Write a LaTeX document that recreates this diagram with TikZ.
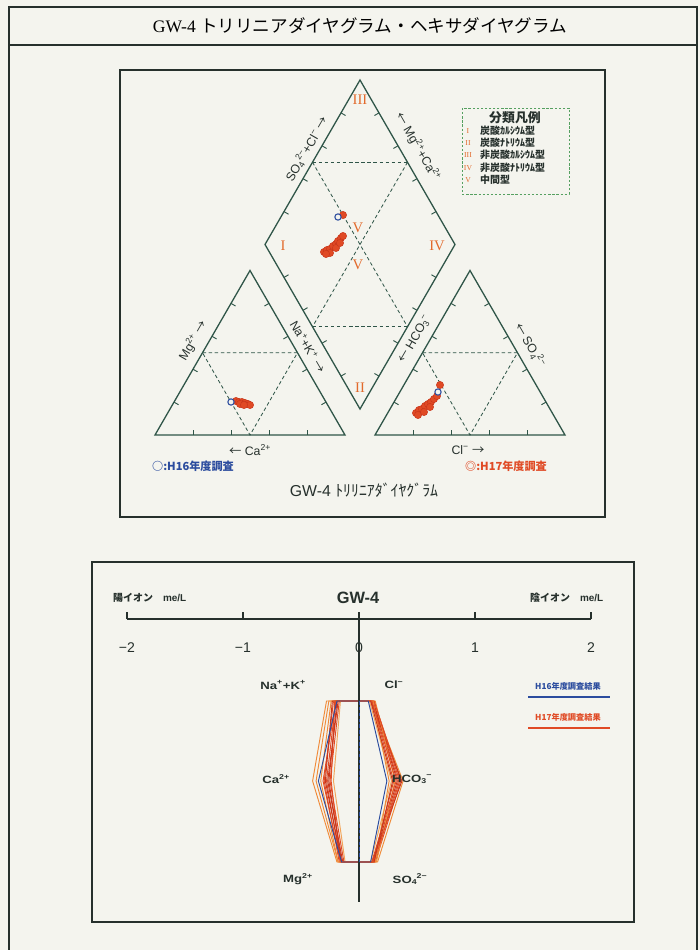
\documentclass[tikz,border=0pt]{standalone}
\usepackage{fontspec}
\setmainfont{Liberation Sans}
\newfontfamily\jp{Noto Sans CJK JP}
\newfontfamily\mincho{Liberation Serif}
\newfontfamily\wide[FakeStretch=1.25]{Liberation Sans}
\usetikzlibrary{positioning}
\usetikzlibrary{calc}

\definecolor{paper}{HTML}{F4F4EE}
\definecolor{ink}{HTML}{26302C}
\definecolor{piper}{HTML}{2F5548}
\definecolor{romanorg}{HTML}{E26A2C}
\definecolor{ptred}{HTML}{E04A25}
\definecolor{ptdark}{HTML}{C8361C}
\definecolor{ptorg}{HTML}{F08A38}
\definecolor{ptlight}{HTML}{F2A458}
\definecolor{ptblue}{HTML}{2B4C9E}
\definecolor{leggreen}{HTML}{55A060}

\newcommand{\chg}[2]{\textsubscript{#1}\kern-0.05em\textsuperscript{#2}}
\newcommand{\ra}{{\jp →}}
\newcommand{\la}{{\jp ←}}

\tikzset{pside/.style={draw=piper, line width=1.1pt, line join=miter}}
\tikzset{gridln/.style={draw=piper, line width=0.7pt, dash pattern=on 3pt off 2.2pt}}
\tikzset{tk/.style={draw=piper, line width=0.8pt}}
\tikzset{roman/.style={text=romanorg, font=\mincho\fontsize{12.5}{12}\selectfont, inner sep=0pt}}
\tikzset{slab/.style={text=ink, font=\fontsize{10.5}{11}\selectfont, inner sep=0pt}}
\tikzset{p16/.style={draw=ptblue, line width=0.9pt, fill=paper}}
\tikzset{p17/.style={draw=ptdark, fill=ptred, line width=0.4pt}}
\tikzset{hex/.style={line width=0.8pt, line join=miter}}
\tikzset{hexlab/.style={text=ink, font=\wide\bfseries\fontsize{9}{10}\selectfont, inner sep=0pt}}
\tikzset{leg/.style={anchor=west, inner sep=0pt, font=\jp\bfseries\fontsize{8.5}{9}\selectfont}}

\begin{document}
\begin{tikzpicture}[x=0.03cm, y=-0.03cm]
\fill[paper] (0,0) rectangle (700,950);
\useasboundingbox (0,0) rectangle (700,950);

% frame and title
\draw[ink, line width=1.3pt] (9,950) -- (9,7) -- (697,7) -- (697,950);
\draw[ink, line width=1.3pt] (9,45) -- (697,45);
\node (title) at (360,26) {\fontsize{15}{15}\selectfont\mincho GW-4\ \jp トリリニアダイヤグラム・ヘキサダイヤグラム};

% trilinear diagram
\draw[ink, line width=1pt] (120,70) rectangle (605,517);

\coordinate (LA) at (155,435);
\coordinate (LB) at (345,435);
\coordinate (LC) at (250,270.5);
\coordinate (RA) at (375,435);
\coordinate (RB) at (565,435);
\coordinate (RC) at (470,270.5);
\coordinate (DB) at (360,409);
\coordinate (DR) at (455,244.5);
\coordinate (DT) at (360,80);
\coordinate (DL) at (265,244.5);

\draw[pside] (LA) -- (LB) -- (LC) -- cycle;
\draw[pside] (RA) -- (RB) -- (RC) -- cycle;
\draw[pside] (DB) -- (DR) -- (DT) -- (DL) -- cycle;

\foreach \p/\q in {LA/LB, LB/LC, LC/LA, RA/RB, RB/RC, RC/RA, DB/DR, DR/DT, DT/DL, DL/DB}
  \foreach \t in {0.2,0.4,0.6,0.8} {
    \path ($(\p)!\t!(\q)$) coordinate (m);
    \draw[tk] (m) -- ($(m)!4.5pt!90:(\q)$);
  }

% dashed mid lines
\foreach \a/\b/\c/\n in {LA/LB/LC/L, RA/RB/RC/R} {
  \coordinate (\n1) at ($(\a)!0.5!(\c)$);
  \coordinate (\n2) at ($(\b)!0.5!(\c)$);
  \coordinate (\n3) at ($(\a)!0.5!(\b)$);
  \draw[gridln] (\n1) -- (\n2) -- (\n3) -- cycle;
}
\coordinate (U1) at ($(DL)!0.5!(DT)$);
\coordinate (U2) at ($(DT)!0.5!(DR)$);
\coordinate (U3) at ($(DR)!0.5!(DB)$);
\coordinate (U4) at ($(DB)!0.5!(DL)$);
\draw[gridln] (U1) -- (U2);
\draw[gridln] (U4) -- (U3);
\draw[gridln] (U1) -- (U3);
\draw[gridln] (U2) -- (U4);

\node (r3) [roman] at (360,100) {III};
\node (r1) [roman] at (283,246) {I};
\node (r4) [roman] at (437,246) {IV};
\node (r2) [roman] at (360,388) {II};
\node (r5a) [roman] at (358,228) {V};
\node (r5b) [roman] at (358,265) {V};

% samples
\foreach \x/\y in {324/252, 327/250, 330/249, 333/246, 336/244, 338/241, 341/238, 343/236, 330/253, 336/248, 340/243, 326/254,
                   236/401, 239/402, 242/402, 245/403, 248/404, 250/405, 240/404, 244/405,
                   416/413, 419/410, 422/409, 425/406, 428/404, 431/402, 434/399, 437/396, 418/415, 424/412, 430/407,
                   343/215, 440/385}
  \draw[p17] (\x,\y) circle (3.1pt);
\foreach \x/\y in {338/217, 231/402, 438/392}
  \draw[p16] (\x,\y) circle (2.7pt);

% axis labels
\node (soc) [slab, rotate=60] at (307,149) {SO\chg{4}{2−}+Cl\textsuperscript{−} \ra};
\node (mgca) [slab, rotate=-60] at (418,147) {\la\ Mg\textsuperscript{2+}+Ca\textsuperscript{2+}};
\node (mg) [slab, rotate=60] at (193,341) {Mg\textsuperscript{2+} \ra};
\node (nak) [slab, rotate=-60] at (308,347) {Na\textsuperscript{+}+K\textsuperscript{+} \ra};
\node (hco) [slab, rotate=60] at (415,339) {\la\ HCO\chg{3}{−}};
\node (so4) [slab, rotate=-60] at (530,345) {\la\ SO\chg{4}{2−}};
\node (ca) [slab] at (250,450) {\la\ Ca\textsuperscript{2+}};
\node (cl) [slab] at (468,450) {Cl\textsuperscript{−} \ra};

\node (h16) [text=ptblue, font=\jp\bfseries\fontsize{9.5}{10}\selectfont] at (193,466) {○:H16年度調査};
\node (h17) [text=ptred, font=\jp\bfseries\fontsize{9.5}{10}\selectfont] at (506,466) {◎:H17年度調査};
\node (tricap) [text=ink, font=\fontsize{13.5}{14}\selectfont] at (364,490) {GW-4 \jp ﾄﾘﾘﾆｱﾀﾞｲﾔｸﾞﾗﾑ};

% legend of types
\draw[leggreen, line width=0.8pt, dash pattern=on 2pt off 1.5pt] (462,108) rectangle (569,194);
\node (legt) [font=\jp\bfseries\fontsize{11}{11}\selectfont, text=ink] at (515,118) {分類凡例};
\foreach \r/\txt/\y in {I/炭酸ｶﾙｼｳﾑ型/131, II/炭酸ﾅﾄﾘｳﾑ型/143, III/非炭酸ｶﾙｼｳﾑ型/155, IV/非炭酸ﾅﾄﾘｳﾑ型/168, V/中間型/180} {
  \node (n\r) [text=romanorg, font=\mincho\fontsize{6.5}{6}\selectfont, inner sep=0pt] at (468,\y) {\r};
  \node (t\r) [leg, text=ink] at (480,\y) {\txt};
}

% hexadiagram
\draw[ink, line width=1pt] (92,562) rectangle (634,922);
\node (cat) [anchor=west, text=ink, inner sep=0pt] at (113,598) {\jp\bfseries\fontsize{8.5}{8}\selectfont 陽イオン\quad\fontsize{8.5}{8}\selectfont\rmfamily me/L};
\node (gw) [text=ink, font=\bfseries\fontsize{14}{14}\selectfont] at (358,598) {GW-4};
\node (ani) [anchor=west, text=ink, inner sep=0pt] at (530,598) {\jp\bfseries\fontsize{8.5}{8}\selectfont 陰イオン\quad\fontsize{8.5}{8}\selectfont\rmfamily me/L};

\coordinate (axL) at (127,619);
\coordinate (axR) at (591,619);
\draw[ink, line width=1pt] (axL) -- (axR);
\foreach \v/\lab in {-2/−2, -1/−1, 0/0, 1/1, 2/2} {
  \draw[ink, line width=1pt] ({359+116*\v},619) -- ({359+116*\v},612);
  \node (v\v) [text=ink, font=\fontsize{12}{12}\selectfont] at ({359+116*\v},648) {\lab};
}
\coordinate (vtop) at (359,612);
\coordinate (vbot) at (359,902);

\foreach \na/\ca/\mg/\cl/\hc/\so/\col in {
  0.28/0.40/0.19/0.11/0.38/0.16/ptorg,
  0.22/0.30/0.17/0.13/0.36/0.14/ptred,
  0.20/0.28/0.16/0.12/0.34/0.13/ptred,
  0.19/0.26/0.15/0.12/0.33/0.12/ptdark,
  0.21/0.24/0.16/0.11/0.30/0.12/ptred,
  0.18/0.27/0.14/0.10/0.37/0.11/ptdark,
  0.24/0.33/0.18/0.14/0.31/0.15/ptorg,
  0.16/0.22/0.12/0.09/0.28/0.10/ptlight,
  0.20/0.31/0.16/0.13/0.35/0.13/ptred,
  0.26/0.37/0.18/0.12/0.26/0.14/ptorg,
  0.17/0.25/0.13/0.11/0.32/0.11/ptred,
  0.23/0.29/0.15/0.10/0.29/0.13/ptdark,
  0.19/0.35/0.15/0.08/0.24/0.10/ptblue}
  \draw[hex, \col] ({359-116*\na},701) -- ({359+116*\cl},701) -- ({359+116*\hc},781)
        -- ({359+116*\so},862) -- ({359-116*\mg},862) -- ({359-116*\ca},781) -- cycle;

\draw[ink, line width=1.1pt] (vtop) -- (vbot);
\draw[ptblue, line width=0.6pt, dash pattern=on 3pt off 2pt] (359,701) -- (359,862);

\node (nak2) [hexlab] at (283,685) {Na\textsuperscript{+}+K\textsuperscript{+}};
\node (cl2) [hexlab] at (394,685) {Cl\textsuperscript{−}};
\node (ca2) [hexlab] at (276,779) {Ca\textsuperscript{2+}};
\node (hco2) [hexlab] at (412,779) {HCO\chg{3}{−}};
\node (mg2) [hexlab] at (298,879) {Mg\textsuperscript{2+}};
\node (so42) [hexlab] at (410,879) {SO\chg{4}{2−}};

% legend of years
\node (y16) [text=ptblue, font=\jp\bfseries\fontsize{7}{7}\selectfont] at (568,686) {H16年度調査結果};
\node (y17) [text=ptred, font=\jp\bfseries\fontsize{7}{7}\selectfont] at (568,717) {H17年度調査結果};
\coordinate (y16a) at (528,697);
\coordinate (y16b) at (610,697);
\coordinate (y17a) at (528,728);
\coordinate (y17b) at (610,728);
\draw[ptblue, line width=1pt] (y16a) -- (y16b);
\draw[ptred, line width=1pt] (y17a) -- (y17b);
\end{tikzpicture}
\end{document}
